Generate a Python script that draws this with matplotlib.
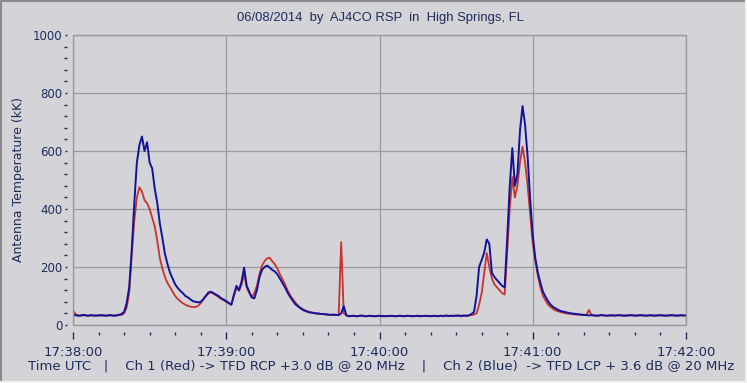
import matplotlib
matplotlib.use("Agg")
import matplotlib.pyplot as plt
from matplotlib.ticker import MultipleLocator, FuncFormatter
from matplotlib.patches import Rectangle
from matplotlib.lines import Line2D

# seconds after 17:38:00 (1 s steps, 0..240)
t_sec = list(range(0, 241))

blue_kk = [
    33, 34, 32, 33, 35, 33, 32, 34, 33, 32, 33, 34, 33, 32, 34, 33, 32, 33, 35, 38,   # 0-19
    45, 75, 130, 260, 420, 560, 620, 650, 600, 630, 560, 540, 470, 420, 350, 300, 245, 210, 180, 160,  # 20-39
    140, 128, 118, 110, 100, 95, 88, 82, 80, 78, 80, 88, 100, 112, 115, 110, 105, 100, 92, 88,  # 40-59
    82, 76, 70, 105, 135, 120, 150, 198, 135, 115, 95, 92, 120, 165, 190, 200, 205, 198, 190, 185,  # 60-79
    175, 160, 145, 130, 112, 97, 85, 72, 65, 58, 52, 48, 45, 43, 42, 40, 40, 38, 38, 37,  # 80-99
    36, 35, 36, 35, 34, 40, 65, 34, 30, 31, 32, 30, 31, 33, 31, 30, 32, 31, 30, 31,  # 100-119
    32, 30, 31, 30, 32, 31, 30, 31, 32, 30, 31, 32, 31, 30, 31, 32, 30, 31, 32, 31,  # 120-139
    30, 32, 31, 30, 32, 31, 33, 31, 32, 31, 33, 32, 31, 33, 32, 33, 38, 45, 100, 200,  # 140-159
    224, 250, 295, 280, 180, 165, 155, 145, 135, 130, 300, 480, 610, 480, 520, 670, 755, 690, 580, 430,  # 160-179
    310, 230, 180, 145, 115, 97, 82, 70, 62, 57, 52, 48, 46, 44, 42, 40, 39, 38, 37, 36,  # 180-199
    35, 34, 33, 34, 33, 32, 33, 34, 33, 32, 33, 34, 32, 33, 34, 33, 32, 33, 34, 33,  # 200-219
    32, 33, 34, 33, 32, 33, 34, 33, 32, 33, 34, 33, 32, 33, 34, 33, 32, 33, 34, 33,  # 220-239
    33,
]

red_kk = [
    50, 38, 33, 32, 33, 34, 32, 33, 32, 33, 34, 32, 33, 32, 33, 34, 32, 33, 34, 35,   # 0-19
    40, 60, 110, 240, 360, 440, 475, 460, 430, 420, 400, 370, 340, 290, 230, 195, 165, 145, 130, 115,  # 20-39
    100, 90, 82, 75, 70, 66, 63, 62, 62, 66, 75, 90, 100, 108, 112, 108, 102, 96, 90, 85,  # 40-59
    80, 75, 70, 100, 128, 118, 140, 175, 130, 110, 95, 110, 135, 175, 205, 220, 230, 232, 220, 210,  # 60-79
    195, 175, 158, 140, 120, 103, 90, 78, 68, 60, 55, 50, 47, 44, 42, 40, 39, 38, 37, 36,  # 80-99
    35, 35, 34, 35, 34, 286, 40, 33, 31, 32, 31, 30, 32, 31, 30, 31, 32, 30, 31, 30,  # 100-119
    31, 32, 30, 31, 30, 32, 31, 30, 32, 31, 30, 31, 32, 30, 31, 30, 32, 31, 30, 32,  # 120-139
    31, 30, 32, 31, 32, 30, 31, 32, 31, 32, 31, 33, 32, 31, 32, 33, 34, 36, 40, 70,  # 140-159
    110, 180, 248, 200, 160, 140, 130, 120, 110, 105, 250, 400, 510, 440, 480, 560, 615, 560, 480, 380,  # 160-179
    280, 220, 170, 130, 100, 85, 70, 62, 55, 50, 47, 44, 42, 40, 39, 38, 37, 36, 35, 35,  # 180-199
    34, 35, 52, 34, 33, 32, 33, 34, 33, 32, 33, 32, 33, 34, 33, 32, 33, 32, 33, 34,  # 200-219
    33, 32, 33, 34, 33, 32, 33, 32, 33, 34, 33, 32, 33, 32, 33, 34, 33, 32, 33, 32,  # 220-239
    33,
]

x_tick_labels = ["17:38:00", "17:39:00", "17:40:00", "17:41:00", "17:42:00"]
title_text = "06/08/2014  by  AJ4CO RSP  in  High Springs, FL"
ylabel_text = "Antenna Temperature (kK)"
footer_text = ("Time UTC   |    Ch 1 (Red) -> TFD RCP +3.0 dB @ 20 MHz    |    "
               "Ch 2 (Blue)  -> TFD LCP + 3.6 dB @ 20 MHz")

BG = "#d4d4d8"
TXT = "#1c2c5c"
GRID = "#9a9a9a"

W, H = 747, 383
fig = plt.figure(figsize=(W / 100, H / 100), dpi=100, facecolor=BG)
ax = fig.add_axes([73 / W, 1 - 325 / H, (686 - 73) / W, (325 - 35) / H])
ax.set_facecolor(BG)

ax.plot(t_sec, red_kk, color="#c8322d", lw=1.3, zorder=3)
ax.plot(t_sec, blue_kk, color="#12129a", lw=1.4, zorder=4)

ax.set_xlim(0, 240)
ax.set_ylim(0, 1000)

ax.xaxis.set_major_locator(MultipleLocator(60))
ax.xaxis.set_minor_locator(MultipleLocator(10))
ax.yaxis.set_major_locator(MultipleLocator(200))
ax.yaxis.set_minor_locator(MultipleLocator(40))
ax.xaxis.set_major_formatter(FuncFormatter(lambda v, p: x_tick_labels[int(round(v / 60))] if 0 <= round(v / 60) < len(x_tick_labels) else ""))

for s in ax.spines.values():
    s.set_visible(False)
ax.spines["left"].set_position(("outward", 4))
ax.spines["bottom"].set_position(("outward", 5))

ax.grid(True, which="major", color=GRID, lw=0.9)
ax.add_patch(Rectangle((0, 0), 1, 1, transform=ax.transAxes, fill=False,
                       edgecolor=GRID, lw=1.0, zorder=5, clip_on=False))

ax.tick_params(axis="x", which="major", length=5, width=1, color=TXT, labelsize=9.5,
               labelcolor=TXT, pad=5)
ax.tick_params(axis="x", which="minor", length=2.5, width=1, color=TXT)
ax.tick_params(axis="y", which="major", length=1.5, width=1, color=TXT, labelsize=8.5,
               labelcolor=TXT, pad=2)
ax.tick_params(axis="y", which="minor", length=2.5, width=1, color=TXT)

ax.set_ylabel(ylabel_text, color=TXT, fontsize=9, labelpad=6)
fig.text(380 / W, 1 - 18 / H, title_text, ha="center", va="center", color=TXT,
         fontsize=9.4, family="Liberation Sans")
fig.text(381 / W, 1 - 366 / H, footer_text, ha="center", va="center", color=TXT, fontsize=9.5)

# sunken 3D outer frame
fig.add_artist(Line2D([1 / W, 1 / W, 1 - 1 / W], [1 / H, 1 - 1 / H, 1 - 1 / H],
                      transform=fig.transFigure, color="#8a8a8a", lw=1.5))
fig.add_artist(Line2D([1 / W, 1 - 1 / W, 1 - 1 / W], [1 / H, 1 / H, 1 - 1 / H],
                      transform=fig.transFigure, color="#f2f2f2", lw=1.5))

fig.savefig("out.png", dpi=100, facecolor=BG)
